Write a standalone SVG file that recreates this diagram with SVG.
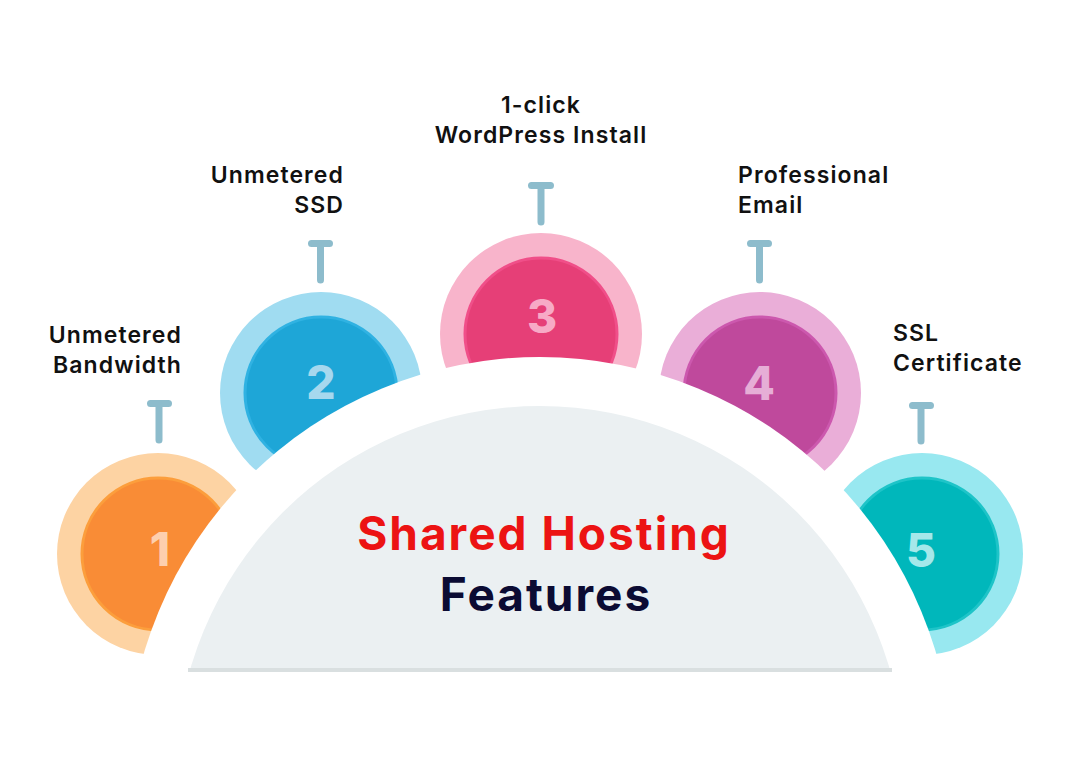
<svg xmlns="http://www.w3.org/2000/svg" width="1080" height="767" viewBox="0 0 1080 767">
  <style>
    .lbl { font-family: Inter, "Liberation Sans", sans-serif; font-weight: 600; font-size: 23px; letter-spacing: 1.1px; fill: #111111; }
    .num { font-family: Inter, "Liberation Sans", sans-serif; font-weight: 800; font-size: 46px; text-anchor: middle; }
    .tee { stroke: #8dbccc; stroke-width: 7; stroke-linecap: round; fill: none; }
    .title { font-family: Inter, "Liberation Sans", sans-serif; font-weight: 700; font-size: 46px; letter-spacing: 2px; text-anchor: middle; }
  </style>
  <defs>
    <clipPath id="domeClip"><rect x="0" y="0" width="1080" height="670"/></clipPath>
  </defs>
  <rect width="1080" height="767" fill="#ffffff"/>

  <g id="node-1">
    <circle cx="158" cy="554" r="101" fill="#fdd3a3"/>
    <circle cx="158" cy="554" r="76" fill="#f98c36" stroke="#fc9e3c" stroke-width="3"/>
    <text class="num" x="160" y="566" fill="#fdcfae">1</text>
    <text class="lbl" x="182" y="343" text-anchor="end">Unmetered</text>
    <text class="lbl" x="182" y="373" text-anchor="end">Bandwidth</text>
  </g>
  <g id="node-2">
    <circle cx="321" cy="393" r="101" fill="#a0dcf1"/>
    <circle cx="321" cy="393" r="76" fill="#1ea6d7" stroke="#30b2e2" stroke-width="3"/>
    <text class="num" x="321" y="399" fill="#a6d8ee">2</text>
    <text class="lbl" x="344" y="183" text-anchor="end">Unmetered</text>
    <text class="lbl" x="344" y="213" text-anchor="end">SSD</text>
  </g>
  <g id="node-3">
    <circle cx="541" cy="334" r="101" fill="#f8b4cb"/>
    <circle cx="541" cy="334" r="76" fill="#e63f77" stroke="#f04f89" stroke-width="3"/>
    <text class="num" x="542" y="333" fill="#f7aac6">3</text>
    <text class="lbl" x="541" y="113" text-anchor="middle">1-click</text>
    <text class="lbl" x="541" y="143" text-anchor="middle">WordPress Install</text>
  </g>
  <g id="node-4">
    <circle cx="760" cy="393" r="101" fill="#eaaed8"/>
    <circle cx="760" cy="393" r="76" fill="#bf499c" stroke="#cc58ae" stroke-width="3"/>
    <text class="num" x="759" y="400" fill="#e6aed6">4</text>
    <text class="lbl" x="738" y="183">Professional</text>
    <text class="lbl" x="738" y="213">Email</text>
  </g>
  <g id="node-5">
    <circle cx="922" cy="554" r="101" fill="#98e8f0"/>
    <circle cx="922" cy="554" r="76" fill="#00b7bb" stroke="#1ec4c8" stroke-width="3"/>
    <text class="num" x="921" y="567" fill="#a5e8ea">5</text>
    <text class="lbl" x="893" y="341">SSL</text>
    <text class="lbl" x="893" y="371">Certificate</text>
  </g>

  <g id="connectors">
    <path class="tee" d="M150.5 403.5 H168.5 M159 403.5 V440"/>
    <path class="tee" d="M311.5 243.5 H329.5 M320.5 243.5 V280"/>
    <path class="tee" d="M531.5 185.5 H550.5 M541 185.5 V222"/>
    <path class="tee" d="M750.5 243.5 H768.5 M759.5 243.5 V280"/>
    <path class="tee" d="M912.5 405.5 H930.5 M921 405.5 V441"/>
  </g>

  <g id="hub">
    <circle cx="540" cy="770" r="413" fill="#ffffff"/>
    <circle cx="540" cy="770" r="364" fill="#ebf0f2" clip-path="url(#domeClip)"/>
    <rect x="188" y="668" width="704" height="4" fill="#d9dfe0"/>
    <text class="title" x="544" y="550" fill="#ec1313">Shared Hosting</text>
    <text class="title" x="546" y="611" fill="#0b0b33">Features</text>
  </g>
</svg>
